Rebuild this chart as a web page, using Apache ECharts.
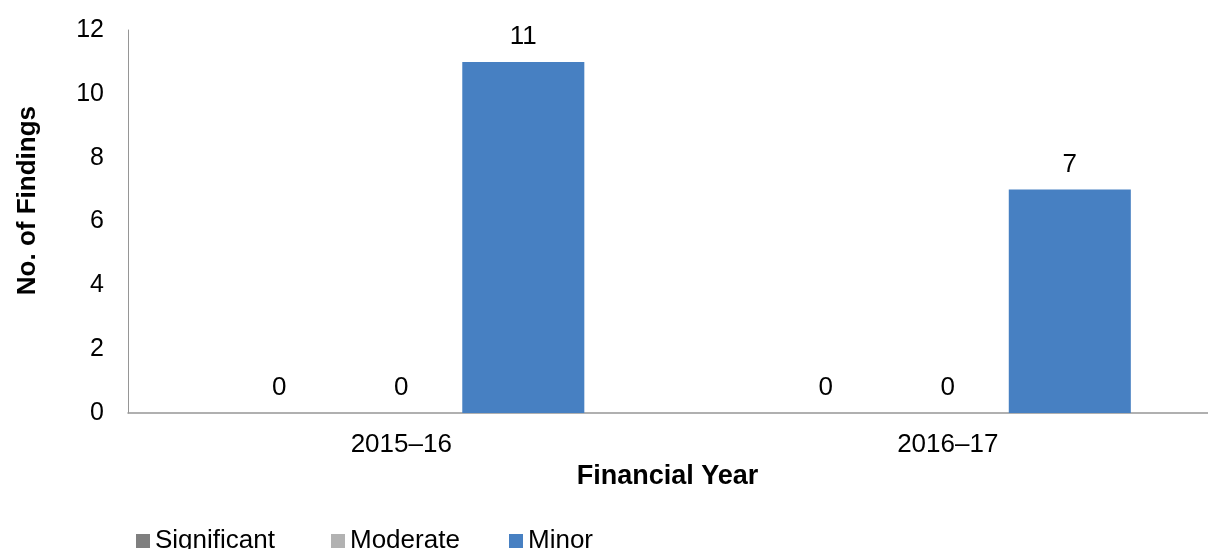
<!DOCTYPE html>
<html>
<head>
<meta charset="utf-8">
<script src="https://cdn.jsdelivr.net/npm/echarts@6/dist/echarts.min.js"></script>
<style>
  html, body { margin: 0; padding: 0; background: #ffffff; overflow: hidden; }
  /* the plot area runs slightly past the right edge of the window */
  #chart { width: 1221px; height: 549px; }
</style>
</head>
<body>
<div id="chart"></div>
<script>
// Findings per financial year, by severity
const years = ['2015–16', '2016–17'];
const significant = [0, 0];
const moderate = [0, 0];
const minor = [11, 7];
const yTicks = { min: 0, max: 12, interval: 2 };

const FONT = '"Liberation Sans", Arial, sans-serif';
const AXIS_GREY = '#969696';

const chart = echarts.init(document.getElementById('chart'), null, { renderer: 'canvas' });

const labelStyle = {
  show: true,
  position: 'top',
  distance: 12,
  color: '#000',
  fontFamily: FONT,
  fontSize: 26
};

function bar(name, data, color) {
  return {
    name: name,
    type: 'bar',
    data: data,
    barGap: '0%',
    barCategoryGap: '33%',
    itemStyle: { color: color },
    label: labelStyle,
    emphasis: { disabled: true }
  };
}

chart.setOption({
  animation: false,
  textStyle: { fontFamily: FONT },
  grid: { left: 128, right: 0, top: 30, bottom: 136 },
  xAxis: {
    type: 'category',
    data: years,
    axisLine: { show: true, lineStyle: { color: AXIS_GREY, width: 1.5 } },
    axisTick: { show: false },
    axisLabel: { color: '#000', fontSize: 26, fontFamily: FONT, margin: 19 },
    name: 'Financial Year',
    nameLocation: 'middle',
    nameGap: 41,
    nameTextStyle: { color: '#000', fontSize: 27, fontWeight: 'bold', fontFamily: FONT, padding: [0, 14, 0, 0] }
  },
  yAxis: {
    type: 'value',
    min: yTicks.min,
    max: yTicks.max,
    interval: yTicks.interval,
    splitLine: { show: false },
    axisLine: { show: true, lineStyle: { color: AXIS_GREY, width: 1 } },
    axisTick: { show: false },
    axisLabel: { color: '#000', fontSize: 25, fontFamily: FONT, margin: 24 }
  },
  legend: {
    left: 131,
    top: 522,
    itemGap: 0,
    itemWidth: 14,
    itemHeight: 14,
    icon: 'rect',
    textStyle: { color: '#000', fontSize: 26, fontFamily: FONT, lineHeight: 28 },
    data: [
      { name: 'Significant', textStyle: { width: 176 } },
      { name: 'Moderate', textStyle: { width: 159 } },
      { name: 'Minor' }
    ]
  },
  graphic: [{
    type: 'text',
    left: 15,
    top: 106,
    rotation: Math.PI / 2,
    style: {
      text: 'No. of Findings',
      fill: '#000',
      font: 'bold 26px ' + FONT
    }
  }],
  series: [
    bar('Significant', significant, '#7f7f7f'),
    bar('Moderate', moderate, '#b2b2b2'),
    bar('Minor', minor, '#4780c2')
  ]
});
</script>
</body>
</html>
